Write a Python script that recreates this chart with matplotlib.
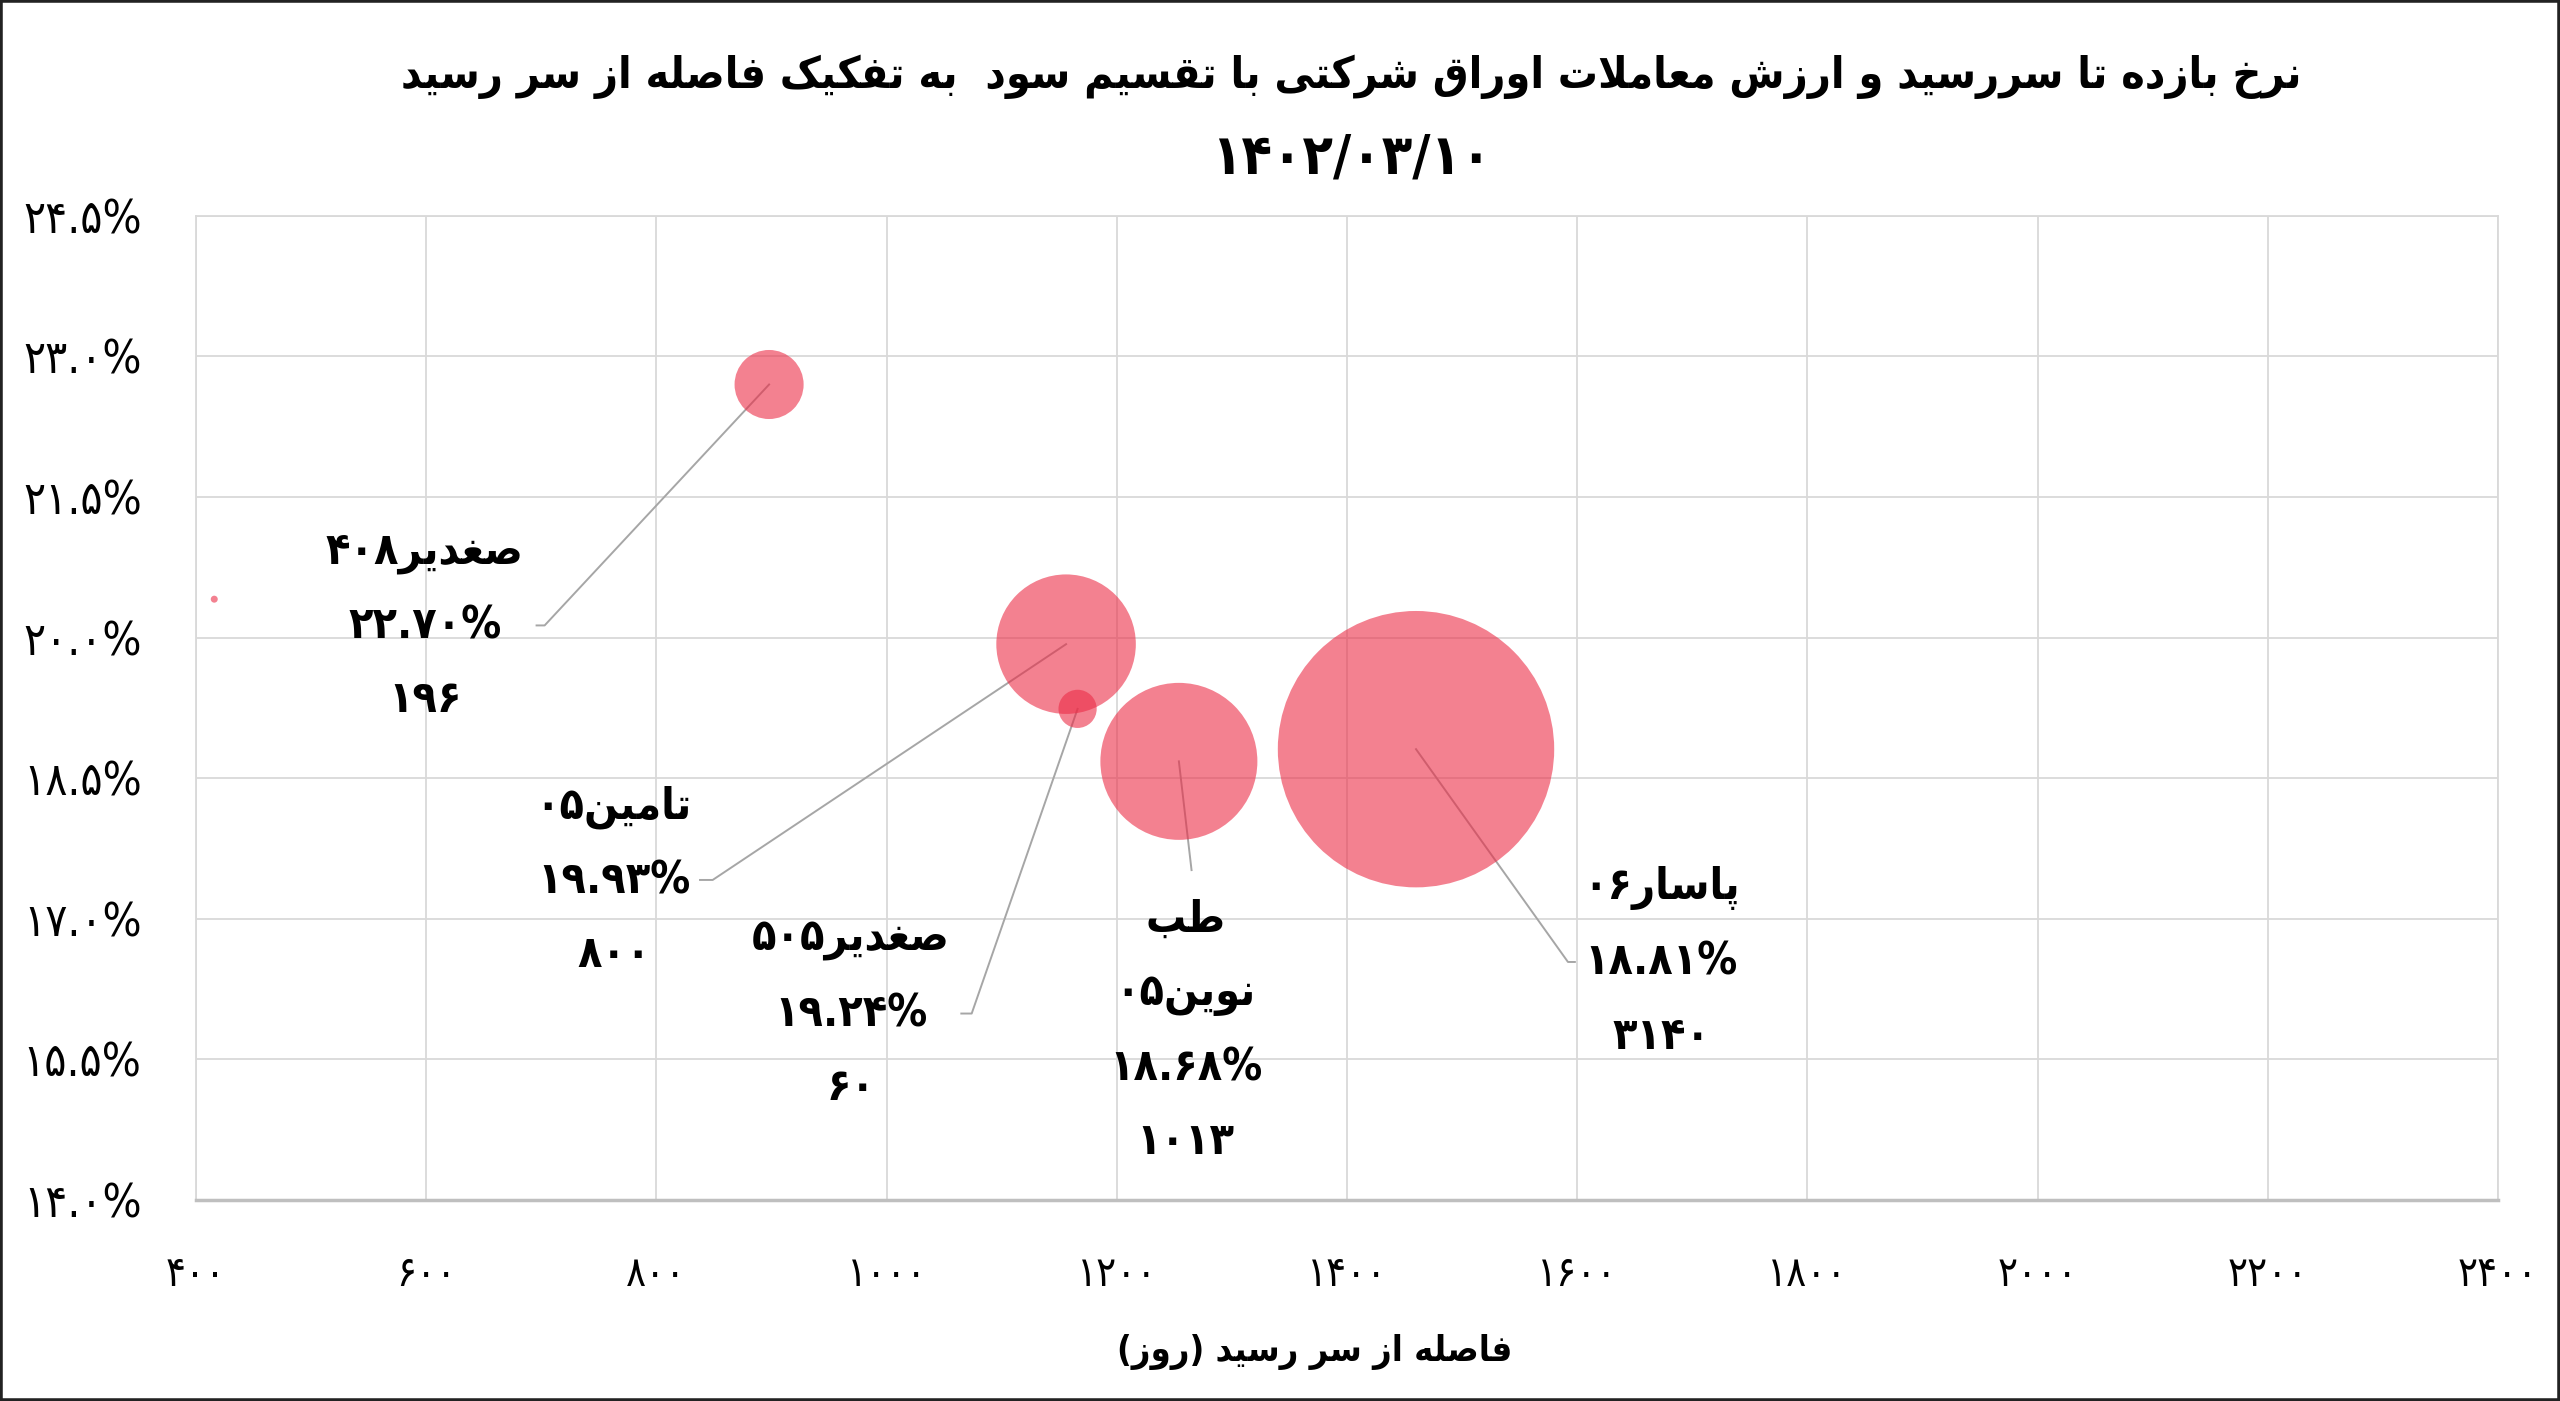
import matplotlib.pyplot as plt
from matplotlib.patches import Rectangle
from matplotlib.ticker import FuncFormatter

# bond name, days to maturity, yield to maturity (%), trade value
names = ["صغدیر۴۰۸", "تامین۰۵", "صغدیر۵۰۵", "طب نوین۰۵", "پاسار۰۶", ""]
days = [898, 1156, 1166, 1254, 1460, 416]
ytm = [22.70, 19.93, 19.24, 18.68, 18.81, 20.41]
value = [196, 800, 60, 1013, 3140, 2]

x_ticks = [400, 600, 800, 1000, 1200, 1400, 1600, 1800, 2000, 2200, 2400]
y_ticks = [14.0, 15.5, 17.0, 18.5, 20.0, 21.5, 23.0, 24.5]

title = "نرخ بازده تا سررسید و ارزش معاملات اوراق شرکتی با تقسیم سود  به تفکیک فاصله از سر رسید"
date = "۱۴۰۲/۰۳/۱۰"
x_title = "فاصله از سر رسید (روز)"

# where the labels sit (data coords) and where their leader lines end
label_xy = [(599, 20.12), (763, 17.41), (969, 15.99), (1260, 15.81), (1673, 16.54), None]
leader = [
    [(703, 20.13), (696, 20.13)],
    [(849, 17.415), (838, 17.415)],
    [(1074, 15.99), (1065, 15.99)],
    [(1265, 17.52)],
    [(1592, 16.54), (1598, 16.54)],
    None,
]

# matplotlib does no arabic shaping, so do it by hand with presentation forms
FORMS = {
    "ا": (0xFE8D, 0xFE8E), "آ": (0xFE81, 0xFE82),
    "د": (0xFEA9, 0xFEAA), "ذ": (0xFEAB, 0xFEAC),
    "ر": (0xFEAD, 0xFEAE), "ز": (0xFEAF, 0xFEB0),
    "ژ": (0xFB8A, 0xFB8B), "و": (0xFEED, 0xFEEE),
    "ب": (0xFE8F, 0xFE90, 0xFE91, 0xFE92),
    "پ": (0xFB56, 0xFB57, 0xFB58, 0xFB59),
    "ت": (0xFE95, 0xFE96, 0xFE97, 0xFE98),
    "ج": (0xFE9D, 0xFE9E, 0xFE9F, 0xFEA0),
    "ح": (0xFEA1, 0xFEA2, 0xFEA3, 0xFEA4),
    "خ": (0xFEA5, 0xFEA6, 0xFEA7, 0xFEA8),
    "س": (0xFEB1, 0xFEB2, 0xFEB3, 0xFEB4),
    "ش": (0xFEB5, 0xFEB6, 0xFEB7, 0xFEB8),
    "ص": (0xFEB9, 0xFEBA, 0xFEBB, 0xFEBC),
    "ط": (0xFEC1, 0xFEC2, 0xFEC3, 0xFEC4),
    "ع": (0xFEC9, 0xFECA, 0xFECB, 0xFECC),
    "غ": (0xFECD, 0xFECE, 0xFECF, 0xFED0),
    "ف": (0xFED1, 0xFED2, 0xFED3, 0xFED4),
    "ق": (0xFED5, 0xFED6, 0xFED7, 0xFED8),
    "ک": (0xFB8E, 0xFB8F, 0xFB90, 0xFB91),
    "گ": (0xFB92, 0xFB93, 0xFB94, 0xFB95),
    "ل": (0xFEDD, 0xFEDE, 0xFEDF, 0xFEE0),
    "م": (0xFEE1, 0xFEE2, 0xFEE3, 0xFEE4),
    "ن": (0xFEE5, 0xFEE6, 0xFEE7, 0xFEE8),
    "ه": (0xFEE9, 0xFEEA, 0xFEEB, 0xFEEC),
    "ی": (0xFEEF, 0xFEF0, 0xFEF3, 0xFEF4),
}
LAM_ALEF = {"ا": (0xFEFB, 0xFEFC), "آ": (0xFEF5, 0xFEF6)}
LTR = set("0123456789۰۱۲۳۴۵۶۷۸۹.%/")
MIRROR = {"(": ")", ")": "("}
FA_DIGITS = str.maketrans("0123456789", "۰۱۲۳۴۵۶۷۸۹")


def joins_left(ch):
    return ch in FORMS and len(FORMS[ch]) == 4


def shape(line):
    out = []
    i = 0
    while i < len(line):
        c = line[i]
        if c not in FORMS:
            out.append(c)
            i += 1
            continue
        prev = i > 0 and joins_left(line[i - 1])
        if c == "ل" and i + 1 < len(line) and line[i + 1] in LAM_ALEF:
            out.append(chr(LAM_ALEF[line[i + 1]][1 if prev else 0]))
            i += 2
            continue
        nxt = i + 1 < len(line) and line[i + 1] in FORMS
        f = FORMS[c]
        if len(f) == 4 and prev and nxt:
            code = f[3]
        elif prev:
            code = f[1]
        elif len(f) == 4 and nxt:
            code = f[2]
        else:
            code = f[0]
        out.append(chr(code))
        i += 1
    return "".join(out)


def farsi(text):
    lines = []
    for line in text.split("\n"):
        runs = []
        for ch in shape(line):
            kind = ch in LTR
            if runs and runs[-1][0] == kind:
                runs[-1][1].append(ch)
            else:
                runs.append((kind, [ch]))
        out = ""
        for kind, chars in reversed(runs):
            if kind:
                out += "".join(chars)
            else:
                out += "".join(MIRROR.get(c, c) for c in reversed(chars))
        lines.append(out)
    return "\n".join(lines)


plt.rcParams["font.family"] = ["DejaVu Sans"]
plt.rcParams["font.stretch"] = "condensed"

fig = plt.figure(figsize=(25.6, 14.01), dpi=100)
ax = fig.add_axes([0.0765, 0.1434, 0.8993, 0.7026])

grid_col = "#D9D9D9"
ax.set_xlim(400, 2400)
ax.set_ylim(14.0, 24.5)
ax.set_xticks(x_ticks)
ax.set_yticks(y_ticks)
ax.grid(True, color=grid_col, linewidth=1.3)
ax.set_axisbelow(True)
for side in ["left", "top", "right"]:
    ax.spines[side].set_color(grid_col)
    ax.spines[side].set_linewidth(1.3)
ax.spines["bottom"].set_color("#BFBFBF")
ax.spines["bottom"].set_linewidth(2.5)

ax.xaxis.set_major_formatter(FuncFormatter(lambda v, p: f"{v:.0f}".translate(FA_DIGITS)))
ax.yaxis.set_major_formatter(FuncFormatter(lambda v, p: f"{v:.1f}%".translate(FA_DIGITS)))
ax.tick_params(axis="both", length=0, colors="black")
ax.tick_params(axis="x", pad=38, labelsize=30)
ax.tick_params(axis="y", pad=39, labelsize=33)

# leader lines go under the bubbles, like in excel
for i in range(len(days)):
    if leader[i] is None:
        continue
    xs = [days[i]] + [p[0] for p in leader[i]]
    ys = [ytm[i]] + [p[1] for p in leader[i]]
    ax.plot(xs, ys, color="#A6A6A6", linewidth=1.4, zorder=1.5)

max_diam = 199
sizes = [max_diam ** 2 * v / max(value) for v in value]
ax.scatter(days, ytm, s=sizes, color="#EC2D47", alpha=0.6, linewidths=0, zorder=2)

for i in range(len(days)):
    if label_xy[i] is None:
        continue
    name = names[i].replace(" ", "\n")
    txt = name + "\n" + f"{ytm[i]:.2f}%".translate(FA_DIGITS) + "\n" + str(value[i]).translate(FA_DIGITS)
    ax.text(label_xy[i][0], label_xy[i][1], farsi(txt), ha="center", va="center",
            multialignment="center", fontsize=32, fontweight="bold", linespacing=1.9, zorder=3)

ax.set_xlabel(farsi(x_title), fontsize=26, fontweight="bold")
ax.xaxis.set_label_coords(0.486, -0.154)
ax.xaxis.label.set_va("center")

fig.text(0.528, 0.945, farsi(title), ha="center", va="center", fontsize=32, fontweight="bold")
fig.text(0.528, 0.887, farsi(date), ha="center", va="center", fontsize=40, fontweight="bold")

fig.patches.append(Rectangle((0, 0), 1, 1, transform=fig.transFigure, fill=False,
                             edgecolor="#222222", linewidth=4))

fig.savefig("out.png", dpi=100)
